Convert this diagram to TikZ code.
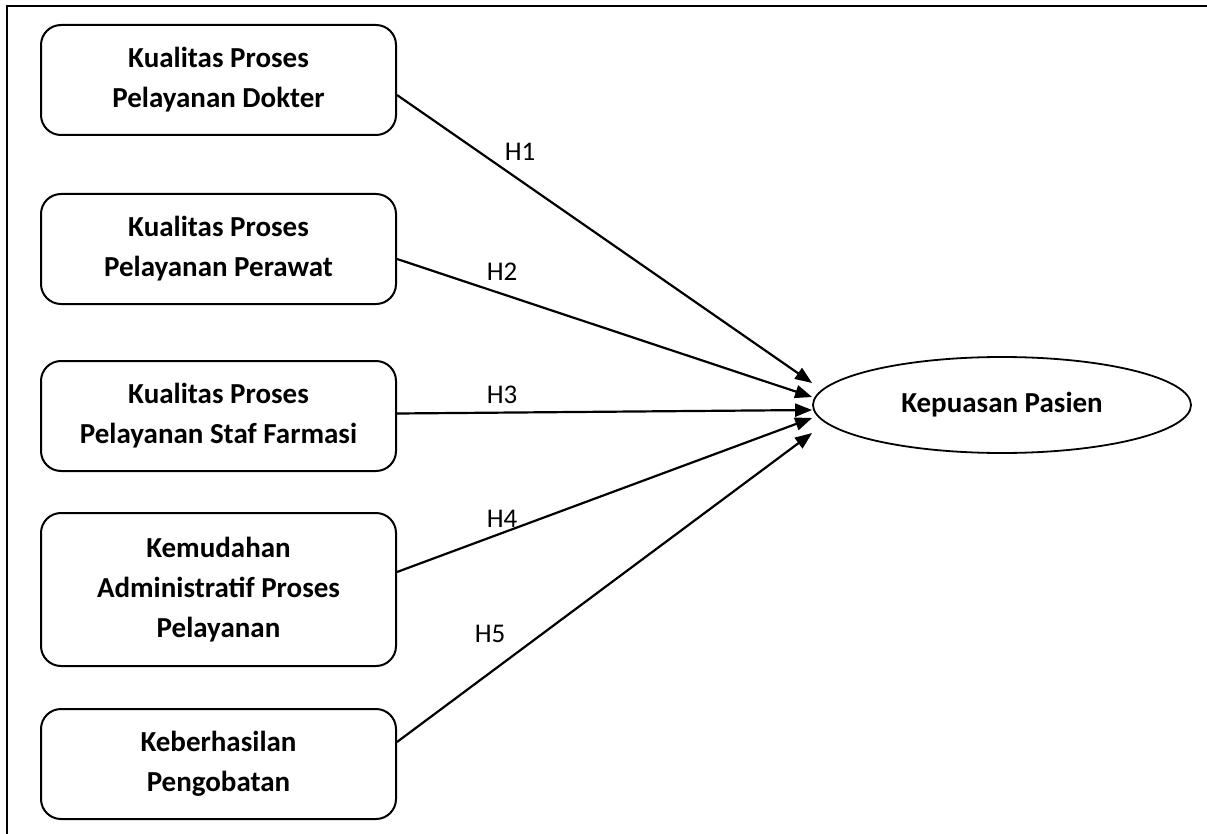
\documentclass[tikz,border=0pt]{standalone}
\usepackage{fontspec}
\setmainfont{Carlito}
\usetikzlibrary{positioning,shapes.geometric,arrows.meta}

\begin{document}
\begin{tikzpicture}[x=1pt, y=-1pt,
varnode/.style={rectangle, rounded corners=20pt, draw=black, line width=2pt, minimum width=355pt, minimum height=110pt, inner sep=0pt, align=center, font=\bfseries\fontsize{29}{40}\selectfont},
depnode/.style={ellipse, draw=black, line width=1.8pt, minimum width=378pt, minimum height=96pt, inner sep=0pt, font=\bfseries\fontsize{29}{40}\selectfont},
hlabel/.style={inner sep=0pt, font=\fontsize{27}{30}\selectfont},
hline/.style={draw=black, line width=2.2pt, -{Triangle[length=17pt,width=13pt]}},
]
\useasboundingbox (0,0) rectangle (1207,834);
\draw[line width=2.5pt] (7,834) -- (7,6) -- (1207,6);

%Nodes
\node[varnode]          (dokter)        at (218.5,80)               {Kualitas Proses\\Pelayanan Dokter};
\node[varnode]          (perawat)       [below=57pt of dokter]      {Kualitas Proses\\Pelayanan Perawat};
\node[varnode]          (farmasi)       [below=55pt of perawat]     {Kualitas Proses\\Pelayanan Staf Farmasi};
\node[varnode, minimum height=153pt] (admin) [below=40pt of farmasi] {Kemudahan\\Administratif Proses\\Pelayanan};
\node[varnode]          (pengobatan)    [below=41pt of admin]       {Keberhasilan\\Pengobatan};
\node[depnode]          (pasien)        at (1002,405)               {Kepuasan Pasien};

\node[hlabel]           (h1)            at (520,152)                {H1};
\node[hlabel]           (h2)            at (502,272)                {H2};
\node[hlabel]           (h3)            at (502,395)                {H3};
\node[hlabel]           (h4)            at (502,519)                {H4};
\node[hlabel]           (h5)            at (490,634)                {H5};

%Lines
\draw[hline] ([yshift=-15pt]dokter.east) -- ([yshift=22pt]pasien.west);
\draw[hline] ([yshift=-10pt]perawat.east) -- ([yshift=8pt]pasien.west);
\draw[hline] ([yshift=2.5pt]farmasi.east) -- ([yshift=-5pt]pasien.west);
\draw[hline] ([yshift=17.5pt]admin.east) -- ([yshift=-13pt]pasien.west);
\draw[hline] ([yshift=22pt]pengobatan.east) -- ([yshift=-28pt]pasien.west);

\end{tikzpicture}
\end{document}
